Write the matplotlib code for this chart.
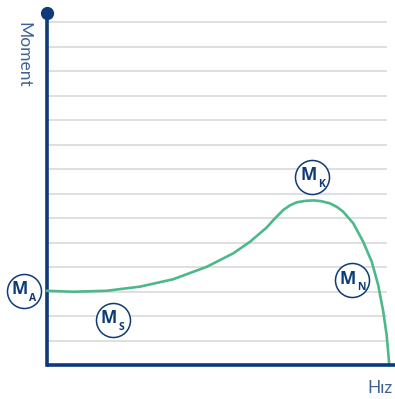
import matplotlib
matplotlib.use("Agg")
import matplotlib.pyplot as plt

# --- data (speed in % of sync speed, torque in grid units) ---
hiz = [0, 7.7, 17.6, 27.4, 37.1, 47.0, 54.8, 59.7, 64.6, 66.6, 69.5, 71.5, 73.4, 75.9,
       78.3, 80.6, 83.2, 85.3, 87.1, 90.1, 93.0, 95.5, 97.4, 98.9, 99.9, 100.6, 100.7]
moment = [3.03, 2.99, 3.03, 3.20, 3.50, 4.01, 4.56, 5.03, 5.61, 5.92, 6.33, 6.52, 6.64, 6.70,
          6.72, 6.69, 6.60, 6.45, 6.26, 5.78, 5.03, 4.22, 3.27, 2.18, 1.22, 0.13, 0.0]

etiketler = ["A", "S", "K", "N"]
etiket_x = [-6.8, 19.4, 78.0, 89.7]
etiket_y = [3.02, 1.84, 7.67, 3.46]

LACIVERT = "#0d3a78"
YESIL = "#4db88a"
GRI = "#d6d6d6"
YAZI = "#3f6296"

fig = plt.figure(figsize=(3.95, 3.99), dpi=100)
ax = fig.add_axes([47 / 395, 34 / 399, 340 / 395, 352 / 399])
ax.set_xlim(0, 100)
ax.set_ylim(0, 14.37)

# grid lines
for g in range(1, 15):
    ax.axhline(g, color=GRI, lw=1.1, zorder=1)

ax.plot(hiz, moment, color=YESIL, lw=1.9, zorder=3, clip_on=False,
        solid_joinstyle="round")

# axes
for s in ["top", "right", "bottom"]:
    ax.spines[s].set_visible(False)
ax.spines["left"].set_color(LACIVERT)
ax.spines["left"].set_linewidth(2.6)
ax.plot([0, 102.4], [0, 0], color=LACIVERT, lw=2.6, clip_on=False, zorder=4,
        solid_capstyle="butt")
ax.plot([0], [14.37], "o", color=LACIVERT, ms=8.5, clip_on=False, zorder=5)
ax.set_xticks([])
ax.set_yticks([])

# circled labels
for lab, x, y in zip(etiketler, etiket_x, etiket_y):
    ax.plot([x], [y], "o", ms=24.5, mfc="white", mec=LACIVERT, mew=1.1,
            clip_on=False, zorder=6)
    ax.annotate("M", (x, y), xytext=(-2.8, 1.2), textcoords="offset points",
                ha="center", va="center", fontsize=12.5, fontweight="bold",
                color=LACIVERT, family="Open Sans", zorder=7, annotation_clip=False)
    ax.annotate(lab, (x, y), xytext=(6.4, -5.2), textcoords="offset points",
                ha="center", va="center", fontsize=7.5, fontweight="bold",
                color=LACIVERT, family="Open Sans", zorder=7, annotation_clip=False)

fig.text(23 / 395, 1 - 55 / 399, "Moment", rotation=-90, ha="center", va="center",
         fontsize=12.5, color=YAZI, family="Lato")
fig.text(380 / 395, 1 - 388 / 399, "Hız", ha="center", va="center",
         fontsize=12.5, color=YAZI, family="Lato")

fig.savefig("out.png", dpi=100)
